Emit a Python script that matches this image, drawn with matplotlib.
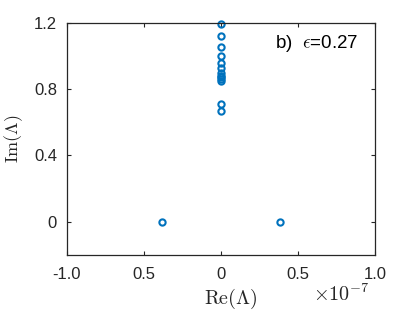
import matplotlib.pyplot as plt

# eigenvalues
re_vals = [0, 0, 0, 0, 0, 0, 0, 0, 0, 0, 0, 0, 0, -0.38e-7, 0.38e-7]
im_vals = [1.19, 1.12, 1.055, 1.0, 0.96, 0.925, 0.895, 0.878, 0.863, 0.85,
           0.71, 0.67, 0.87, 0, 0]
xticks = [-1e-7, -0.5e-7, 0, 0.5e-7, 1e-7]
xticklabels = ['-1.0', '0.5', '0', '0.5', '1.0']
yticks = [0, 0.4, 0.8, 1.2]
yticklabels = ['0', '0.4', '0.8', '1.2']

plt.rcParams['font.family'] = ['Liberation Sans', 'DejaVu Sans']
plt.rcParams['mathtext.fontset'] = 'cm'

fig = plt.figure(figsize=(4.15, 3.12), dpi=100)
ax = fig.add_axes([0.161, 0.183, 0.743, 0.744])

ax.plot(re_vals, im_vals, 'o', color='#0072BD', markerfacecolor='none',
        markersize=4.5, markeredgewidth=1.5, clip_on=False)

ax.set_xlim(-1e-7, 1e-7)
ax.set_ylim(-0.2, 1.2)
ax.set_xticks(xticks)
ax.set_xticklabels(xticklabels)
ax.set_yticks(yticks)
ax.set_yticklabels(yticklabels)
ax.tick_params(direction='in', top=True, right=True, length=3, width=0.8,
               labelsize=12, colors='#262626')
ax.tick_params(axis='x', pad=9)
ax.tick_params(axis='y', pad=7)
for s in ax.spines.values():
    s.set_color('#262626')
    s.set_linewidth(0.9)

ax.text(0.532, -0.138, r'$\mathrm{Re}(\Lambda)$', transform=ax.transAxes,
        fontsize=14.5, ha='center', va='top', color='#262626')
ax.set_ylabel(r'$\mathrm{Im}(\Lambda)$', fontsize=13, color='#262626')
ax.yaxis.set_label_coords(-0.136, 0.5)
ax.text(0.89, -0.122, r'$\times10^{-7}$', transform=ax.transAxes, fontsize=14.5,
        ha='center', va='top', color='#262626')
ax.text(0.675, 0.909, r'b)  $\epsilon$=0.27', transform=ax.transAxes, fontsize=13.5,
        ha='left', va='center')

fig.savefig('out.png', dpi=100)
